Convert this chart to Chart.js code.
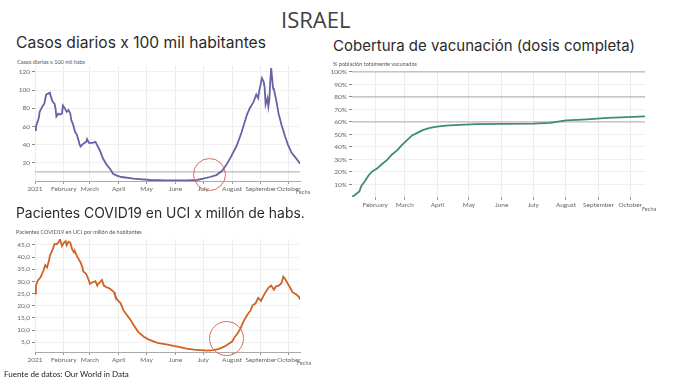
<!DOCTYPE html>
<html>
<head>
<meta charset="utf-8">
<script src="https://cdn.jsdelivr.net/npm/chart.js@4"></script>
<style>
  body { margin: 0; background: #fff; }
  #page { position: relative; width: 680px; height: 383px; overflow: hidden; font-family: Lato, sans-serif; }
  canvas { position: absolute; }
  .t { position: absolute; white-space: nowrap; color: #333; }
  .big { font-family: Inter, sans-serif; color: #2a2a2a; }
  .sub { font-size: 5.5px; color: #555; }
  .fecha { font-size: 5.5px; color: #666; }
  .ring { position: absolute; border: 1px solid #dd6a5e; border-radius: 50%; }
</style>
</head>
<body>
<div id="page">
  <div class="t" style="left:281px;top:4px;font-size:22px;font-family:'Open Sans',sans-serif;color:#404040;">ISRAEL</div>

  <div class="t big" style="left:16px;top:33px;font-size:15.6px;">Casos diarios x 100 mil habitantes</div>
  <div class="t sub" style="left:17px;top:59px;">Casos diarios x 100 mil habs</div>
  <canvas id="cases" width="310" height="135" style="left:0;top:60px;"></canvas>
  <div class="t fecha" style="left:296px;top:189px;">Fecha</div>

  <div class="t big" style="left:333px;top:36px;font-size:15px;">Cobertura de vacunación (dosis completa)</div>
  <div class="t sub" style="left:333px;top:61px;">% población totalmente vacunados</div>
  <canvas id="vax" width="343" height="144" style="left:312px;top:66px;"></canvas>
  <div class="t fecha" style="left:642px;top:206px;">Fecha</div>

  <div class="t big" style="left:16px;top:205px;font-size:13.9px;">Pacientes COVID19 en UCI x millón de habs.</div>
  <div class="t sub" style="left:16px;top:229px;">Pacientes COVID19 en UCI por millón de habitantes</div>
  <canvas id="icu" width="310" height="133" style="left:0;top:233px;"></canvas>
  <div class="t fecha" style="left:297px;top:360px;">Fecha</div>

  <div class="t" style="left:4px;top:369px;font-size:8px;color:#222;">Fuente de datos: Our World in Data</div>

  <div class="ring" style="left:193px;top:158px;width:31px;height:31px;"></div>
  <div class="ring" style="left:209px;top:321px;width:33px;height:33px;"></div>
</div>
<script>
// x values are day of 2021 (0 = 1 Jan)
const monthStarts = [0, 31, 59, 90, 120, 151, 181, 212, 243, 273];
const monthLabels = ['2021', 'February', 'March', 'April', 'May', 'June', 'July', 'August', 'September', 'October'];

// casos diarios x 100 mil
const casesDays = [0,1,4,5,8,10,12,14,16,17,19,21,22,23,25,27,29,30,32,34,36,38,39,41,43,45,47,48,49,52,55,56,58,62,65,66,70,73,77,81,84,88,93,106,124,142,163,174,181,188,195,201,206,211,217,222,228,231,235,238,240,241,244,246,247,248,250,251,252,253,254,256,257,259,262,265,269,272,276,280,283,285];
const casesValues = [56,60,69,76,82,85,95,96,97,93,87,85,80,71,74,73,74,83,80,76,78,74,67,62,54,51,44,40,38,41,43,46,42,42,43,41,33,25,18,13,8,6,4.4,2.5,1.1,0.7,0.7,1.1,2.5,4.4,6.5,11,18,27,39,53,73,80,87,95,91,98,113,109,102,84,91,82,89,109,124,102,100,91,74,62,49,40,31,26,22,19];
const casesTicks = [20, 40, 60, 80, 100, 120];
const casesRef = [10];

// % totalmente vacunados
const vaxDays = [9,12,16,18,21,25,28,33,37,42,47,52,56,61,66,71,76,82,88,98,111,127,152,181,197,206,212,232,251,270,287];
const vaxValues = [0,1.8,4.5,9,12.4,17.6,20.3,22.9,26,29.5,34,37.4,41.3,45.3,49.2,51.3,53.4,55,56,57.1,57.6,58.2,58.4,58.7,59.2,60.5,61.3,62.1,63.2,63.9,64.5];
const vaxTicks = [10, 20, 30, 40, 50, 60, 70, 80, 90, 100];
const vaxRef = [60, 80, 100];

// pacientes UCI por millón
const icuDays = [0,1,3,6,9,11,13,15,16,19,21,23,25,27,29,31,33,34,36,38,40,42,43,45,47,49,51,52,55,58,59,62,65,67,68,70,72,74,77,79,82,85,86,89,92,95,99,103,106,111,117,122,128,133,138,144,149,156,163,171,178,185,192,197,201,204,208,212,215,218,221,224,228,232,234,237,240,243,246,248,251,254,257,259,262,265,267,269,272,275,277,281,284,285];
const icuValues = [25,28.3,30.4,31.7,34.4,36.7,35.8,38.5,40.5,43.2,45.5,45.3,45.9,47.3,44.6,45.9,46.6,44.9,46.3,45.9,43.2,41.9,42.3,40.5,39.2,37.8,35.8,34.1,33.1,30.4,29,29.7,30.1,28.3,29,29.7,30.6,28.3,27.6,27.4,26.6,25.6,24.3,22.2,21.1,18.2,16.1,14.1,12.1,9.3,7.3,6.2,5.3,4.6,4.3,3.9,3.5,3,2.4,2,1.8,1.6,1.8,2.2,2.8,3.3,4.3,5.3,7.3,8.7,10.7,13.4,16.1,18.2,20.2,20.9,23.3,22,24.3,25.6,27.4,28.3,26.6,27.9,28.3,29.3,32,31,29,27,25.6,24.7,23.6,22.5];
const icuTicks = [5, 10, 15, 20, 25, 30, 35, 40, 45];

const tickFont = { family: 'Lato', size: 6.5 };

function lineSet(days, values, color) {
  return {
    data: days.map((d, i) => ({ x: d, y: values[i] })),
    borderColor: color, borderWidth: 1.8, pointRadius: 0, tension: 0, order: 1
  };
}
function refSet(v, xMin, xMax, color) {
  return {
    data: [{ x: xMin, y: v }, { x: xMax, y: v }],
    borderColor: color, borderWidth: 1, pointRadius: 0, order: 2, clip: false
  };
}

function makeChart(id, opts) {
  return new Chart(document.getElementById(id), {
    type: 'line',
    data: { datasets: opts.datasets },
    options: {
      responsive: false,
      animation: false,
      devicePixelRatio: 1,
      layout: { padding: { top: 5, right: 10, left: 0, bottom: 0 } },
      plugins: { legend: { display: false }, tooltip: { enabled: false } },
      scales: {
        x: {
          type: 'linear', min: opts.xMin, max: opts.xMax,
          afterBuildTicks: s => { s.ticks = monthStarts.filter(v => v >= opts.xMin && v <= opts.xMax).map(v => ({ value: v })); },
          afterFit: s => { s.height = opts.xHeight; },
          grid: { color: '#ececec', tickColor: '#999', tickLength: 3 },
          border: { display: opts.xBorder, color: '#aaa' },
          ticks: { font: tickFont, color: '#666', padding: 1, maxRotation: 0, autoSkip: false,
                   callback: v => monthLabels[monthStarts.indexOf(v)] }
        },
        y: {
          min: opts.yMin, max: opts.yMax,
          afterBuildTicks: s => { s.ticks = opts.yTicks.map(v => ({ value: v })); },
          afterFit: s => { s.width = opts.yWidth; },
          grid: { color: '#f0f0f0', tickColor: '#888', tickLength: 3 },
          border: { display: false },
          ticks: { font: tickFont, color: '#666', padding: 2, callback: opts.yFmt }
        }
      }
    }
  });
}

makeChart('cases', {
  datasets: [lineSet(casesDays, casesValues, '#6762a6'), ...casesRef.map(v => refSet(v, 0, 285, '#a8a8a8'))],
  xMin: 0, xMax: 285, yMin: 0, yMax: 126.5, yTicks: casesTicks, yWidth: 35, xHeight: 14, xBorder: true,
  yFmt: v => v
});

makeChart('vax', {
  datasets: [lineSet(vaxDays, vaxValues, '#3b8f6c'),
             refSet(vaxRef[0], 9, 287, '#c4a4a4'), refSet(vaxRef[1], 9, 287, '#a8a8a8'), refSet(vaxRef[2], 9, 287, '#a8a8a8')],
  xMin: 9, xMax: 287, yMin: 0, yMax: 100, yTicks: vaxTicks, yWidth: 40, xHeight: 13, xBorder: false,
  yFmt: v => v + '%'
});

makeChart('icu', {
  datasets: [lineSet(icuDays, icuValues, '#cf6224')],
  xMin: 0, xMax: 285, yMin: 1, yMax: 47.5, yTicks: icuTicks, yWidth: 35, xHeight: 14, xBorder: true,
  yFmt: v => v.toFixed(1).replace('.', ',')
});
</script>
</body>
</html>
